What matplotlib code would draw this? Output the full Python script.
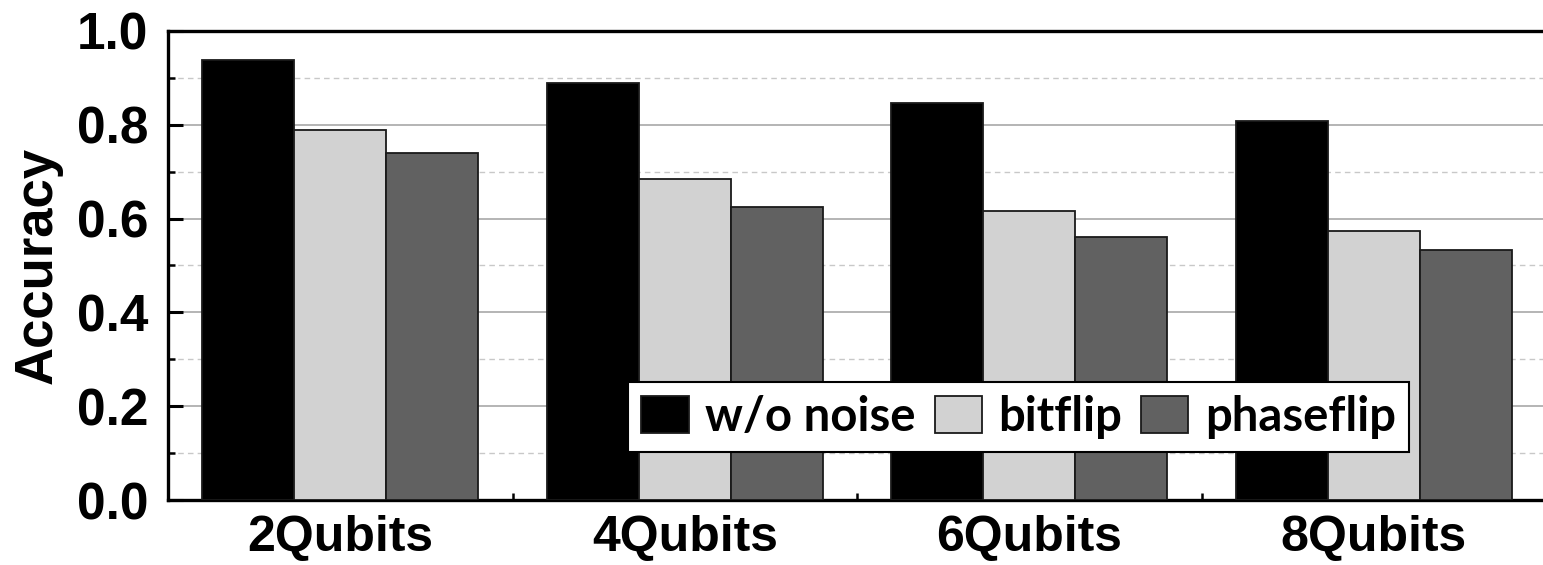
import numpy as np
import matplotlib
matplotlib.use('Agg')
import matplotlib.pyplot as plt
from matplotlib.ticker import MultipleLocator, FormatStrFormatter

# Accuracy per qubit count
groups = ['2Qubits', '4Qubits', '6Qubits', '8Qubits']
no_noise = [0.939, 0.889, 0.846, 0.808]
bitflip = [0.789, 0.684, 0.616, 0.574]
phaseflip = [0.740, 0.625, 0.561, 0.532]
series_names = ['w/o noise', 'bitflip', 'phaseflip']

plt.rcParams['font.family'] = ['Liberation Sans', 'DejaVu Sans']

fig = plt.figure(figsize=(15.43, 5.65), dpi=100)
ax = fig.add_axes([168 / 1543, 65 / 565, 1378 / 1543, 469 / 565])

colors = ['#000000', '#d2d2d2', '#616161']
x = np.arange(len(groups))
width = 0.267
for i, (vals, name) in enumerate(zip([no_noise, bitflip, phaseflip], series_names)):
    ax.bar(x + (i - 1) * width, vals, width, color=colors[i], edgecolor='#1a1a1a',
           linewidth=1.3, label=name, zorder=3)

ax.set_xlim(-0.5, 3.5)
ax.set_ylim(0, 1.0)
ax.set_xticks(x)
ax.set_xticklabels(groups, fontsize=36, fontweight='bold')
ax.set_xticks([0.5, 1.5, 2.5], minor=True)
ax.yaxis.set_major_locator(MultipleLocator(0.2))
ax.yaxis.set_minor_locator(MultipleLocator(0.1))
ax.yaxis.set_major_formatter(FormatStrFormatter('%.1f'))
ax.tick_params(axis='y', labelsize=37)
for lbl in ax.get_yticklabels():
    lbl.set_fontweight('bold')
ax.set_ylabel('Accuracy', fontsize=38, fontweight='bold', labelpad=10)

ax.tick_params(axis='both', which='major', direction='in', length=11, width=2.2)
ax.tick_params(axis='y', which='major', pad=14)
ax.tick_params(axis='x', which='major', pad=11)
ax.tick_params(axis='both', which='minor', direction='in', length=5, width=1.8)

ax.grid(True, which='major', axis='y', color='#a0a0a0', linewidth=1.1, zorder=0)
ax.grid(True, which='minor', axis='y', color='#c8c8c8', linewidth=1.0, linestyle=(0, (4, 3)), zorder=0)
ax.set_axisbelow(True)

for side in ['left', 'bottom', 'top']:
    ax.spines[side].set_linewidth(2.4)
ax.spines['right'].set_visible(False)

leg = ax.legend(loc='lower left', bbox_to_anchor=(0.334, 0.102), borderaxespad=0,
                ncol=3, frameon=True, fancybox=False, framealpha=1,
                prop={'family': 'Lato', 'weight': 'bold', 'size': 34},
                handlelength=1.0, handleheight=0.8, handletextpad=0.35,
                columnspacing=0.4, borderpad=0.28)
leg.get_frame().set_edgecolor('#000000')
leg.get_frame().set_linewidth(1.5)
leg.set_zorder(5)

plt.savefig('out.png', dpi=100)
plt.close()
